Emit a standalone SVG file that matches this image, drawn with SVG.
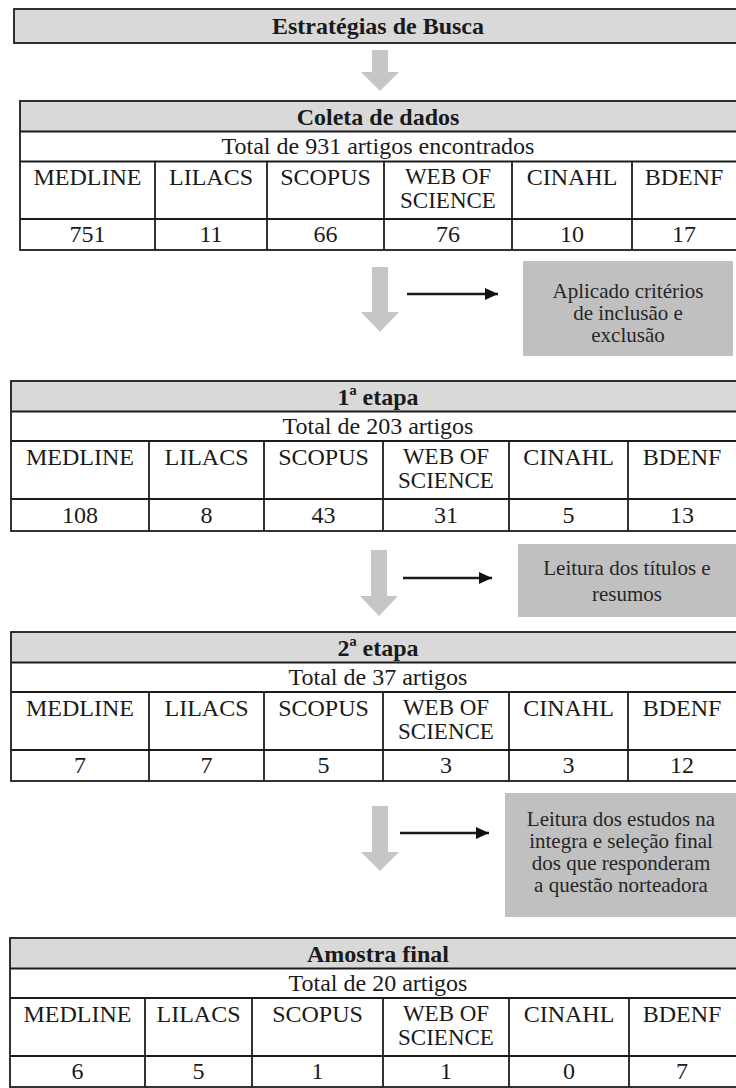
<svg xmlns="http://www.w3.org/2000/svg" width="736" height="1088" viewBox="0 0 736 1088">
<defs>
<style>
.hdr{fill:#d9d9d9}
.box{fill:none;stroke:#1c1c1c;stroke-width:1.8}
.ln{stroke:#1c1c1c;stroke-width:1.8}
.t{font-family:"Liberation Serif","Times New Roman",serif;font-size:24px;fill:#1a1a1a;text-anchor:middle}
.w{font-size:23px}
.b{font-weight:bold}
.note{fill:#c0c0c0}
.nt{font-family:"Liberation Serif","Times New Roman",serif;font-size:21px;fill:#262626;text-anchor:middle}
.darrow{fill:#c6c6c6}
.harrow{stroke:#1a1a1a;stroke-width:2.5;fill:none}
</style>
<marker id="ah" viewBox="0 0 13 12" refX="13" refY="6" markerWidth="13" markerHeight="12" markerUnits="userSpaceOnUse" orient="auto">
<path d="M0,0 L13,6 L0,12 Z" fill="#111"/>
</marker>
</defs>
<rect width="736" height="1088" fill="#ffffff"/>

<g id="estrategias">
<rect x="14" y="9" width="726" height="34" class="hdr"/>
<rect x="14" y="9" width="726" height="34" class="box"/>
<text x="378" y="34" class="t b">Estratégias de Busca</text>
</g>

<g id="coleta" transform="translate(0,101)">
<rect x="20" y="0" width="720" height="30.5" class="hdr"/>
<rect x="20" y="0" width="720" height="149" class="box"/>
<line x1="20" y1="30.5" x2="740" y2="30.5" class="ln"/>
<line x1="20" y1="60.5" x2="740" y2="60.5" class="ln"/>
<line x1="20" y1="118" x2="740" y2="118" class="ln"/>
<line x1="155" y1="60.5" x2="155" y2="149" class="ln"/>
<line x1="267" y1="60.5" x2="267" y2="149" class="ln"/>
<line x1="384" y1="60.5" x2="384" y2="149" class="ln"/>
<line x1="512" y1="60.5" x2="512" y2="149" class="ln"/>
<line x1="632" y1="60.5" x2="632" y2="149" class="ln"/>
<text x="378" y="23.5" class="t b">Coleta de dados</text>
<text x="378" y="52.5" class="t">Total de 931 artigos encontrados</text>
<text x="87.5" y="83.5" class="t">MEDLINE</text>
<text x="211" y="83.5" class="t">LILACS</text>
<text x="325.5" y="83.5" class="t">SCOPUS</text>
<text x="448" y="83" class="t w">WEB OF</text>
<text x="448" y="107" class="t w">SCIENCE</text>
<text x="572" y="83.5" class="t">CINAHL</text>
<text x="684" y="83.5" class="t">BDENF</text>
<text x="87.5" y="141" class="t">751</text>
<text x="211" y="141" class="t">11</text>
<text x="325.5" y="141" class="t">66</text>
<text x="448" y="141" class="t">76</text>
<text x="572" y="141" class="t">10</text>
<text x="684" y="141" class="t">17</text>
</g>

<g id="criterios">
<rect x="523" y="261" width="210" height="95" class="note"/>
<text x="628" y="298" class="nt">Aplicado critérios</text>
<text x="628" y="320" class="nt">de inclusão e</text>
<text x="628" y="342" class="nt">exclusão</text>
</g>

<g id="etapa1" transform="translate(0,381)">
<rect x="11" y="0" width="729" height="30.5" class="hdr"/>
<rect x="11" y="0" width="729" height="150" class="box"/>
<line x1="11" y1="30.5" x2="740" y2="30.5" class="ln"/>
<line x1="11" y1="60" x2="740" y2="60" class="ln"/>
<line x1="11" y1="118" x2="740" y2="118" class="ln"/>
<line x1="149" y1="60" x2="149" y2="150" class="ln"/>
<line x1="264" y1="60" x2="264" y2="150" class="ln"/>
<line x1="383" y1="60" x2="383" y2="150" class="ln"/>
<line x1="509" y1="60" x2="509" y2="150" class="ln"/>
<line x1="628" y1="60" x2="628" y2="150" class="ln"/>
<text x="378" y="23.5" class="t b">1ª etapa</text>
<text x="378" y="52.5" class="t">Total de 203 artigos</text>
<text x="80" y="83.5" class="t">MEDLINE</text>
<text x="206.5" y="83.5" class="t">LILACS</text>
<text x="323.5" y="83.5" class="t">SCOPUS</text>
<text x="446" y="83" class="t w">WEB OF</text>
<text x="446" y="107" class="t w">SCIENCE</text>
<text x="568.5" y="83.5" class="t">CINAHL</text>
<text x="682" y="83.5" class="t">BDENF</text>
<text x="80" y="142" class="t">108</text>
<text x="206.5" y="142" class="t">8</text>
<text x="323.5" y="142" class="t">43</text>
<text x="446" y="142" class="t">31</text>
<text x="568.5" y="142" class="t">5</text>
<text x="682" y="142" class="t">13</text>
</g>

<g id="titulos">
<rect x="518" y="544" width="218" height="73" class="note"/>
<text x="627" y="575" class="nt">Leitura dos títulos e</text>
<text x="627" y="601" class="nt">resumos</text>
</g>

<g id="etapa2" transform="translate(0,632)">
<rect x="11" y="0" width="729" height="30.5" class="hdr"/>
<rect x="11" y="0" width="729" height="149" class="box"/>
<line x1="11" y1="30.5" x2="740" y2="30.5" class="ln"/>
<line x1="11" y1="60" x2="740" y2="60" class="ln"/>
<line x1="11" y1="118" x2="740" y2="118" class="ln"/>
<line x1="149" y1="60" x2="149" y2="149" class="ln"/>
<line x1="264" y1="60" x2="264" y2="149" class="ln"/>
<line x1="383" y1="60" x2="383" y2="149" class="ln"/>
<line x1="509" y1="60" x2="509" y2="149" class="ln"/>
<line x1="628" y1="60" x2="628" y2="149" class="ln"/>
<text x="378" y="23.5" class="t b">2ª etapa</text>
<text x="378" y="52.5" class="t">Total de 37 artigos</text>
<text x="80" y="83.5" class="t">MEDLINE</text>
<text x="206.5" y="83.5" class="t">LILACS</text>
<text x="323.5" y="83.5" class="t">SCOPUS</text>
<text x="446" y="83" class="t w">WEB OF</text>
<text x="446" y="107" class="t w">SCIENCE</text>
<text x="568.5" y="83.5" class="t">CINAHL</text>
<text x="682" y="83.5" class="t">BDENF</text>
<text x="80" y="141" class="t">7</text>
<text x="206.5" y="141" class="t">7</text>
<text x="323.5" y="141" class="t">5</text>
<text x="446" y="141" class="t">3</text>
<text x="568.5" y="141" class="t">3</text>
<text x="682" y="141" class="t">12</text>
</g>

<g id="selecao">
<rect x="505" y="793" width="231" height="124" class="note"/>
<text x="621" y="826" class="nt">Leitura dos estudos na</text>
<text x="621" y="848" class="nt">integra e seleção final</text>
<text x="621" y="870" class="nt">dos que responderam</text>
<text x="621" y="892" class="nt">a questão norteadora</text>
</g>

<g id="amostra" transform="translate(0,938)">
<rect x="10" y="0" width="730" height="30.5" class="hdr"/>
<rect x="10" y="0" width="730" height="149" class="box"/>
<line x1="10" y1="30.5" x2="740" y2="30.5" class="ln"/>
<line x1="10" y1="60" x2="740" y2="60" class="ln"/>
<line x1="10" y1="118" x2="740" y2="118" class="ln"/>
<line x1="145" y1="60" x2="145" y2="149" class="ln"/>
<line x1="252" y1="60" x2="252" y2="149" class="ln"/>
<line x1="383" y1="60" x2="383" y2="149" class="ln"/>
<line x1="509" y1="60" x2="509" y2="149" class="ln"/>
<line x1="629" y1="60" x2="629" y2="149" class="ln"/>
<text x="378" y="23.5" class="t b">Amostra final</text>
<text x="378" y="52.5" class="t">Total de 20 artigos</text>
<text x="77.5" y="83.5" class="t">MEDLINE</text>
<text x="198.5" y="83.5" class="t">LILACS</text>
<text x="317.5" y="83.5" class="t">SCOPUS</text>
<text x="446" y="83" class="t w">WEB OF</text>
<text x="446" y="107" class="t w">SCIENCE</text>
<text x="569" y="83.5" class="t">CINAHL</text>
<text x="682" y="83.5" class="t">BDENF</text>
<text x="77.5" y="141" class="t">6</text>
<text x="198.5" y="141" class="t">5</text>
<text x="317.5" y="141" class="t">1</text>
<text x="446" y="141" class="t">1</text>
<text x="569" y="141" class="t">0</text>
<text x="682" y="141" class="t">7</text>
</g>

<g id="connectors">
<path class="darrow" d="M372,50 H388 V72 H399 L380,91 L361,72 H372 Z"/>
<path class="darrow" d="M372,267 H388 V312 H399 L380,332 L361,312 H372 Z"/>
<path class="darrow" d="M371,550 H387 V596 H398 L379,616 L360,596 H371 Z"/>
<path class="darrow" d="M372,806 H388 V852 H399 L380,871 L361,852 H372 Z"/>
<line class="harrow" x1="407" y1="294" x2="498" y2="294" marker-end="url(#ah)"/>
<line class="harrow" x1="403" y1="578" x2="492" y2="578" marker-end="url(#ah)"/>
<line class="harrow" x1="400" y1="833" x2="489" y2="833" marker-end="url(#ah)"/>
</g>
</svg>
